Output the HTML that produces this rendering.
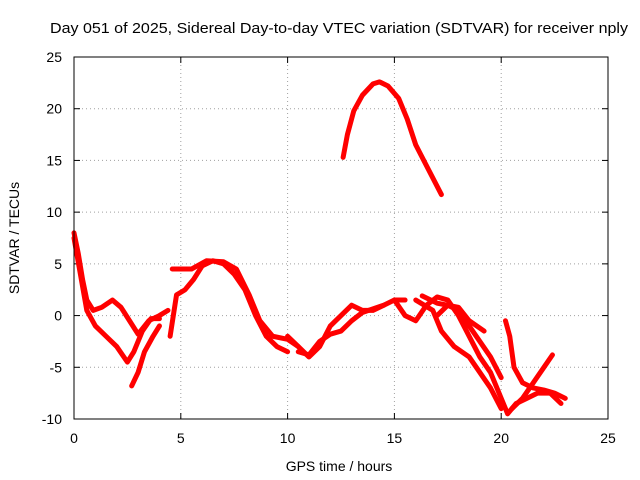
<!DOCTYPE html>
<html><head><meta charset="utf-8"><style>
body{margin:0;background:#fff}
svg{display:block;font-family:"Liberation Sans",sans-serif}
</style></head><body>
<svg id="c" width="640" height="480">
<text x="339" y="33" font-size="15" text-anchor="middle" textLength="578" lengthAdjust="spacingAndGlyphs">Day 051 of 2025, Sidereal Day-to-day VTEC variation (SDTVAR) for receiver nply</text>
<text x="339" y="471" font-size="14" text-anchor="middle">GPS time / hours</text>
<text transform="translate(19,238) rotate(-90)" font-size="14" text-anchor="middle">SDTVAR / TECUs</text>
<g id="grid"></g><g id="ticks"></g><g id="series"></g>
<rect x="74" y="57" width="534" height="362" fill="none" stroke="#000" stroke-width="1"/>
</svg>
<script>
const xTicks=[0,5,10,15,20,25];
const yTicks=[-10,-5,0,5,10,15,20,25];
const trackA=[[12.6,15.3],[12.8,17.5],[13.1,19.8],[13.5,21.3],[14.0,22.4],[14.3,22.6],[14.7,22.2],[15.2,21],[15.6,19],[16,16.5],[16.5,14.5],[17.2,11.7]];
const trackB=[[0,8],[0.2,6],[0.4,3.5],[0.6,1.5],[0.9,0.5],[1.3,0.8],[1.8,1.5],[2.2,0.8],[2.6,-0.5],[3.0,-1.8],[3.5,-0.5],[4.0,0],[4.4,0.5]];
const trackC=[[0,7.5],[0.3,4],[0.6,0.5],[1.0,-1],[1.5,-2],[2.0,-3],[2.5,-4.5],[2.8,-3.5],[3.2,-1.5],[3.6,-0.3],[4.0,-0.3]];
const trackD=[[2.7,-6.8],[3.0,-5.5],[3.3,-3.5],[3.7,-2],[4.0,-1]];
const trackE=[[4.5,-2],[4.8,2],[5.2,2.5],[5.6,3.5],[6.0,4.8],[6.5,5.3],[7.0,5],[7.5,4],[8.0,2.5],[8.5,0],[9.0,-2],[9.5,-3],[10,-3.5]];
const trackE2=[[4.6,4.5],[5.5,4.5],[6.2,5.3],[7,5.2],[7.6,4.5],[8.2,2],[8.7,-0.5],[9.3,-2],[10,-2.3],[10.5,-3]];
const trackF=[[10,-2],[10.5,-3],[11,-4],[11.5,-3],[12,-1],[12.5,0],[13,1],[13.5,0.5],[14,0.5],[14.5,1],[15,1.5],[15.5,1.5]];
const trackG=[[10.5,-3.5],[11,-3.8],[11.5,-2.5],[12,-1.8],[12.5,-1.5],[13,-0.5],[13.5,0.3],[14.5,1]];
const trackH=[[15,1.5],[15.5,0],[16,-0.5],[16.5,1],[17,1.8],[17.5,1.5],[18,0],[18.5,-2],[19,-4],[19.5,-5.5],[20,-8],[20.3,-9.5],[20.7,-8.5],[21.2,-8],[21.7,-7.5],[22.3,-7.5],[22.8,-8.5]];
const trackI=[[16,1.5],[16.8,0.5],[17.2,-1.5],[17.8,-3],[18.5,-4],[19,-5.5],[19.5,-7],[20,-9]];
const trackJ=[[17,0],[17.5,1],[18,0.5],[18.5,-1],[19,-2.5],[19.5,-4],[20,-6]];
const trackK=[[20.2,-0.5],[20.4,-2],[20.6,-5],[21,-6.5],[21.5,-7],[22,-7.2],[22.5,-7.5],[23,-8]];
const trackL=[[20.5,-9],[21,-8],[21.5,-6.5],[22,-5],[22.4,-3.8]];
const trackM=[[16.3,1.9],[17,1.2],[18,0.8],[18.5,-0.5],[19.2,-1.5]];
const tracks=[trackA,trackB,trackC,trackD,trackE,trackE2,trackF,trackG,trackH,trackI,trackJ,trackK,trackL,trackM];
const X=v=>74+(v-0)*(534/25);
const Y=v=>419-(v+10)*(362/35);
const NS="http://www.w3.org/2000/svg";
const g=document.getElementById('grid'),t=document.getElementById('ticks'),s=document.getElementById('series');
function mk(tag,at,par){const e=document.createElementNS(NS,tag);for(const k in at)e.setAttribute(k,at[k]);par.appendChild(e);return e;}
xTicks.forEach(v=>{
 if(v>0&&v<25){const l=mk('line',{x1:X(v),x2:X(v),y1:57,y2:419,stroke:'#a0a0a0','stroke-dasharray':'1,3'},g);
 
 }
 mk('line',{x1:X(v),x2:X(v),y1:419,y2:413,stroke:'#000'},t);
 mk('line',{x1:X(v),x2:X(v),y1:57,y2:63,stroke:'#000'},t);
 const tx=mk('text',{x:X(v),y:443,'font-size':14,'text-anchor':'middle'},t);tx.textContent=v;
 
 
});
yTicks.forEach(v=>{
 if(v>-10&&v<25){const l=mk('line',{x1:74,x2:608,y1:Y(v),y2:Y(v),stroke:'#a0a0a0','stroke-dasharray':'1,3'},g);
 
 }
 mk('line',{x1:74,x2:80,y1:Y(v),y2:Y(v),stroke:'#000'},t);
 mk('line',{x1:602,x2:608,y1:Y(v),y2:Y(v),stroke:'#000'},t);
 const tx=mk('text',{x:62,y:Y(v)+5,'font-size':14,'text-anchor':'end'},t);tx.textContent=v;
 
 
});
tracks.forEach(tr=>{
 const p=mk('polyline',{points:tr.map(d=>X(d[0])+','+Y(d[1])).join(' '),fill:'none',stroke:'#f00','stroke-width':5,'stroke-linejoin':'round','stroke-linecap':'round'},s);
 
 
});
</script>
</body></html>
